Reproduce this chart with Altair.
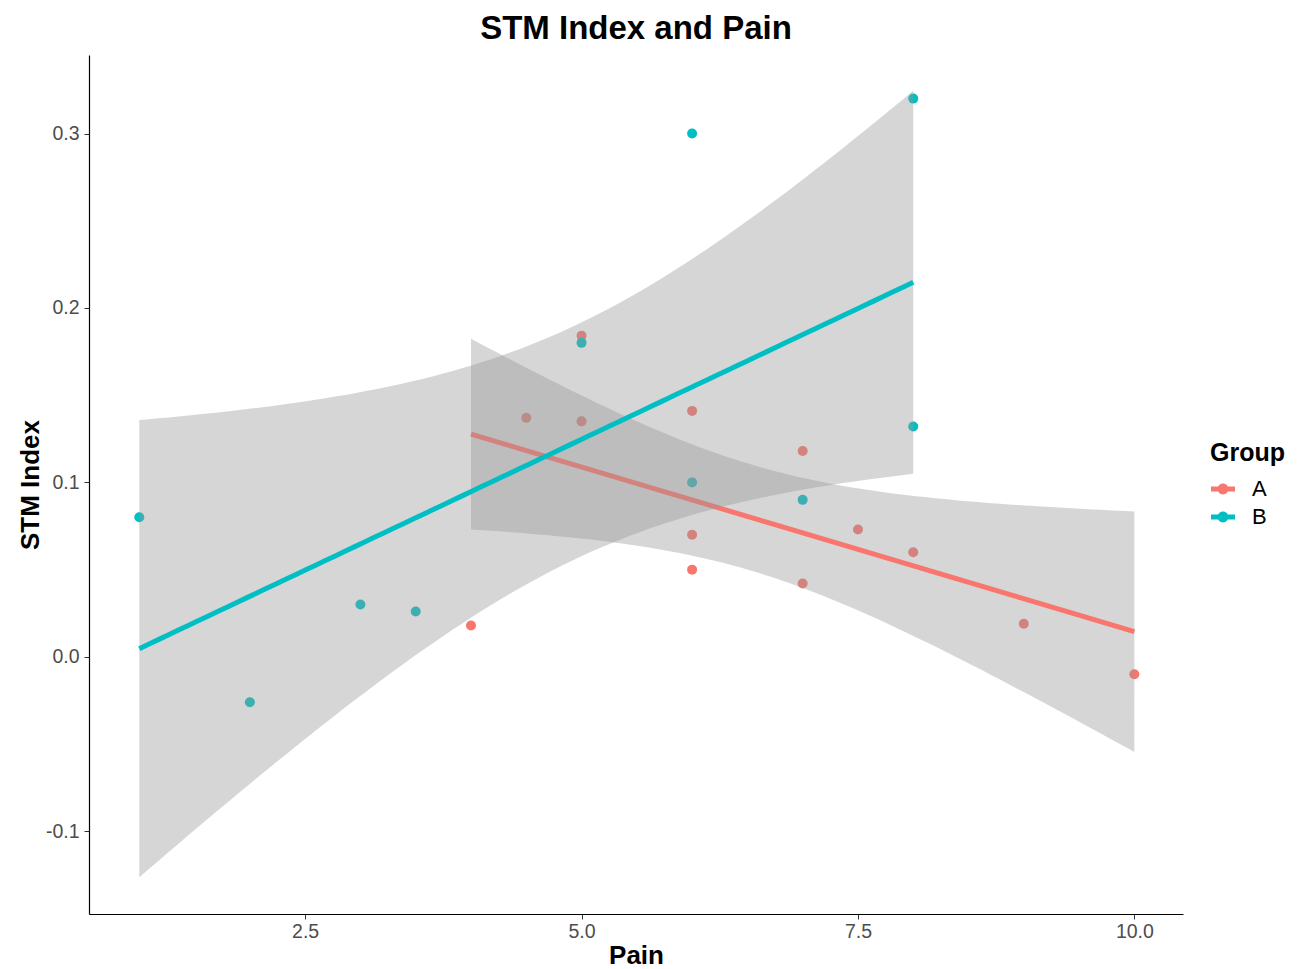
import altair as alt
import numpy as np
import pandas as pd

# ---- data ----
pain_a = [4, 4.5, 5, 5, 6, 6, 6, 7, 7, 7.5, 8, 9, 10]
stm_a = [0.018, 0.137, 0.184, 0.135, 0.141, 0.070, 0.050, 0.118, 0.042, 0.073, 0.060, 0.019, -0.010]
pain_b = [1, 2, 3, 3.5, 5, 6, 6, 7, 8, 8]
stm_b = [0.080, -0.026, 0.030, 0.026, 0.180, 0.300, 0.100, 0.090, 0.320, 0.132]
groups = ["A", "B"]
colors = ["#F8766D", "#00BFC4"]
x_ticks = [2.5, 5.0, 7.5, 10.0]
y_ticks = [-0.1, 0.0, 0.1, 0.2, 0.3]
t_crit = {"A": 2.201, "B": 2.306}  # 95% t quantiles, df = n - 2

points = pd.DataFrame({
    "Pain": pain_a + pain_b,
    "STM": stm_a + stm_b,
    "Group": ["A"] * len(pain_a) + ["B"] * len(pain_b),
})


def fit(xs, ys, g):
    x = np.asarray(xs, float)
    y = np.asarray(ys, float)
    n = len(x)
    b, a = np.polyfit(x, y, 1)
    resid = y - (a + b * x)
    s = np.sqrt((resid ** 2).sum() / (n - 2))
    sxx = ((x - x.mean()) ** 2).sum()
    grid = np.linspace(x.min(), x.max(), 80)
    fitv = a + b * grid
    se = s * np.sqrt(1.0 / n + (grid - x.mean()) ** 2 / sxx)
    return pd.DataFrame({
        "Pain": grid, "fit": fitv,
        "lo": fitv - t_crit[g] * se, "hi": fitv + t_crit[g] * se, "Group": g,
    })


fit_a = fit(pain_a, stm_a, "A")
fit_b = fit(pain_b, stm_b, "B")

xs = alt.Scale(domain=[0.545, 10.44], nice=False, zero=False)
ys = alt.Scale(domain=[-0.1474, 0.345], nice=False, zero=False)
cscale = alt.Scale(domain=groups, range=colors)

lbl = "replace(format(datum.value, '.1f'), '\u2212', '-')"
x_axis = alt.Axis(values=x_ticks, labelExpr=lbl, title="Pain", grid=False)
y_axis = alt.Axis(values=y_ticks, labelExpr=lbl, title="STM Index", grid=False)

key_path = ("M-1,-0.2 L1,-0.2 L1,0.2 L-1,0.2 Z "
            "M0.45,0 A0.45,0.45 0 1,1 -0.45,0 A0.45,0.45 0 1,1 0.45,0 Z")

pts = alt.Chart(points).mark_circle(size=100, opacity=1).encode(
    x=alt.X("Pain:Q", scale=xs, axis=x_axis),
    y=alt.Y("STM:Q", scale=ys, axis=y_axis),
    color=alt.Color("Group:N", scale=cscale, legend=alt.Legend(
        title="Group", orient="none", legendX=1121, legendY=386,
        titleFontSize=25, titleFontWeight="bold", labelFontSize=22,
        titleFont="Liberation Sans", labelFont="Liberation Sans",
        titleColor="black", labelColor="black", titlePadding=10,
        symbolSize=576, symbolType=key_path, symbolOpacity=1,
        rowPadding=4, labelOffset=16,
    )),
)


def band(df):
    return alt.Chart(df).mark_area(color="#999999", opacity=0.4).encode(
        x=alt.X("Pain:Q", scale=xs),
        y=alt.Y("lo:Q", scale=ys),
        y2="hi:Q",
    )


def line(df, col):
    return alt.Chart(df).mark_line(color=col, strokeWidth=5).encode(
        x=alt.X("Pain:Q", scale=xs),
        y=alt.Y("fit:Q", scale=ys),
    )


chart = alt.layer(
    pts, band(fit_a), line(fit_a, colors[0]), band(fit_b), line(fit_b, colors[1])
).properties(
    width=1094, height=859,
    title=alt.TitleParams("STM Index and Pain", fontSize=33, fontWeight="bold",
                          font="Liberation Sans", color="black", anchor="middle", offset=9),
    autosize=alt.AutoSizeParams(type="none"),
    padding={"left": 81, "top": 47, "right": 108, "bottom": 55},
).configure_view(stroke=None).configure_axis(
    domainColor="black", domainWidth=1.2, tickColor="#333333", tickSize=5,
    labelColor="#4D4D4D", labelFontSize=19.5, labelFont="Liberation Sans",
    titleFont="Liberation Sans", titleFontSize=26, titleFontWeight="bold", titleColor="black",
).configure_axisX(labelPadding=3, titlePadding=2).configure_axisY(labelPadding=5, titlePadding=2)

chart.save("out.html", embed_options={"renderer": "svg", "actions": False})
